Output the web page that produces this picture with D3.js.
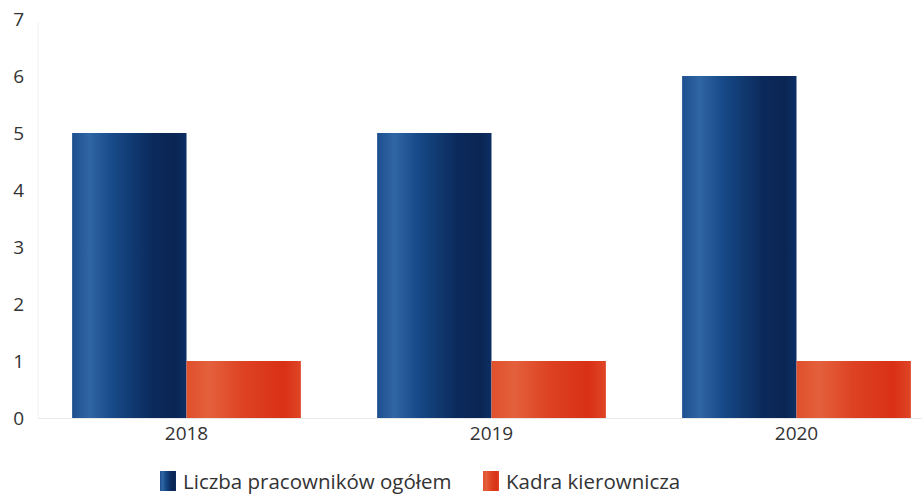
<!DOCTYPE html>
<html><head><meta charset="utf-8">
<script src="https://cdn.jsdelivr.net/npm/d3@7"></script>
<style>body{margin:0;background:#fff}svg{display:block}text{font-family:"Open Sans",sans-serif;fill:#333}</style>
</head><body>
<svg id="c" width="922" height="495"></svg>
<script>
const years = ["2018", "2019", "2020"];
const seriesNames = ["Liczba pracowników ogółem", "Kadra kierownicza"];
const total = [5, 5, 6];
const managers = [1, 1, 1];
const yTicks = [0, 1, 2, 3, 4, 5, 6, 7];

const svg = d3.select("#c");
const x = d3.scaleBand().domain(years).range([34, 949]).paddingInner(0.25).paddingOuter(0.125);
const xs = d3.scaleBand().domain([0, 1]).range([0, x.bandwidth()]);
const y = d3.scaleLinear().domain([0, 7]).range([418, 19]);

const defs = svg.append("defs");
function grad(id, stops) {
  const g = defs.append("linearGradient").attr("id", id).attr("x1", 0).attr("x2", 1).attr("y1", 0).attr("y2", 0);
  stops.forEach(s => g.append("stop").attr("offset", s[0]).attr("stop-color", s[1]));
}
grad("gb", [[0, "#1d4f8f"], [0.15, "#3066a4"], [0.35, "#174a88"], [0.7, "#0b2a5c"], [0.9, "#0a2552"], [1, "#0d2f66"]]);
grad("gr", [[0, "#e0502c"], [0.2, "#e4603c"], [0.5, "#dd4222"], [0.85, "#d93016"], [1, "#df4526"]]);

// axis lines
svg.append("line").attr("x1", 38).attr("x2", 38).attr("y1", 22).attr("y2", 418).attr("stroke", "#f0f0f0");
svg.append("line").attr("x1", 38).attr("x2", 922).attr("y1", 418.5).attr("y2", 418.5).attr("stroke", "#e8e8e8");

const yAxis = svg.append("g").attr("transform", "translate(24,0)")
  .call(d3.axisLeft(y).tickValues(yTicks).tickFormat(d3.format("d")).tickSize(0).tickPadding(0));
yAxis.select(".domain").remove();
yAxis.selectAll("text").style("font-size", "19px").attr("fill", "#444").attr("text-anchor", "end");

const xAxis = svg.append("g").attr("transform", "translate(0,418)")
  .call(d3.axisBottom(x).tickSize(0).tickPadding(9));
xAxis.select(".domain").remove();
xAxis.selectAll("text").style("font-size", "19px").attr("fill", "#222");

const data = [total, managers];
const fills = ["url(#gb)", "url(#gr)"];
data.forEach((vals, si) => {
  svg.append("g").selectAll("rect").data(years).join("rect")
    .attr("x", (d) => x(d) + xs(si))
    .attr("width", xs.bandwidth())
    .attr("y", (d, i) => y(vals[i]))
    .attr("height", (d, i) => y(0) - y(vals[i]))
    .attr("fill", fills[si]);
});

// legend
const legendX = [160, 483];
const leg = svg.append("g");
seriesNames.forEach((n, i) => {
  leg.append("rect").attr("x", legendX[i]).attr("y", 471).attr("width", 16).attr("height", 20).attr("fill", fills[i]);
  leg.append("text").attr("x", legendX[i] + 23).attr("y", 489).text(n).style("font-size", "20.5px").attr("fill", "#222");
});
</script>
</body></html>
